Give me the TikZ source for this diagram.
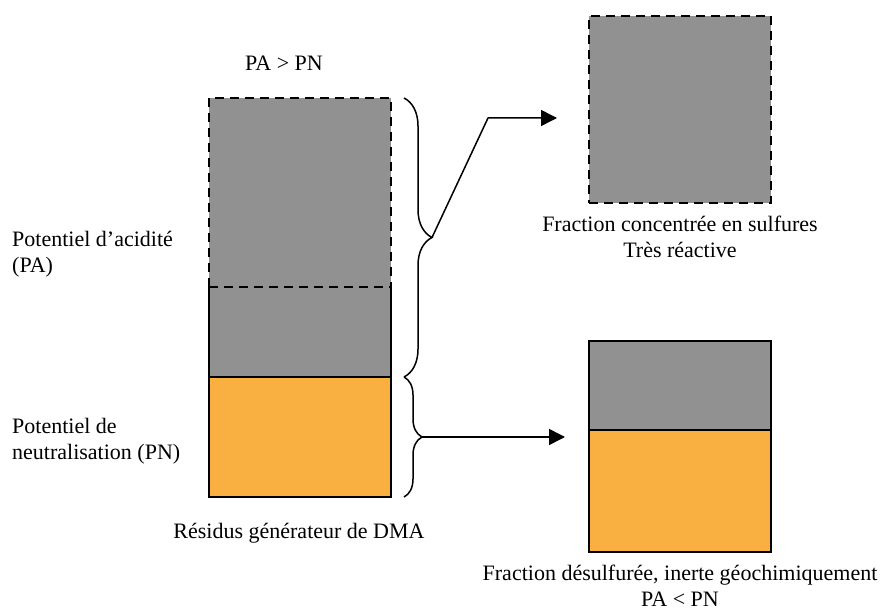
\documentclass[tikz,border=0pt]{standalone}
\usepackage{fontspec}
\setmainfont{Liberation Serif}
\usetikzlibrary{positioning,arrows.meta,decorations.pathreplacing}
\definecolor{pagris}{RGB}{145,145,145}
\definecolor{pnorange}{RGB}{250,175,65}
\begin{document}
\begin{tikzpicture}[x=1pt,y=-1pt,
  block/.style={rectangle, minimum width=182pt, inner sep=0pt, outer sep=0pt, line width=1.2pt},
  lbl/.style={font=\fontsize{22}{26}\selectfont, inner sep=0pt},
  dashedge/.style={line width=1.2pt, dash pattern=on 9pt off 6pt},
  fleche/.style={line width=1.5pt, line join=round, -{Triangle[length=16pt,width=16pt]}},
  accolade/.style={line width=1.5pt, decorate, decoration={brace, amplitude=#1}}]
\useasboundingbox (0,0) rectangle (887,612);
\node[block, fill=pagris, minimum height=189pt] (acid) at (300,192.5){};
\node[block, fill=pagris, minimum height=90pt, below=0pt of acid] (reste){};
\node[block, draw, fill=pnorange, minimum height=120pt, below=0pt of reste] (neutre){};
\draw[dashedge](acid.south west) |- (acid.north east) -- (acid.south east);
\draw[dashedge](acid.south west) -- (acid.south east);
\draw[line width=1.2pt](reste.north west) -- (reste.south west) (reste.north east) -- (reste.south east);

\node[block, draw, dashedge, fill=pagris, minimum height=187pt] (concentre) at (680,109.5){};
\node[block, draw, fill=pagris, minimum height=89pt] (desgris) at (680,385.5){};
\node[block, draw, fill=pnorange, minimum height=122pt, below=0pt of desgris] (desorange){};

\draw[accolade=28pt]([xshift=13pt]acid.north east) -- node[coordinate, xshift=28pt] (pointeA){} ([xshift=13pt]reste.south east);
\draw[accolade=18pt]([xshift=13pt]neutre.north east) -- node[coordinate, xshift=18pt] (pointeB){} ([xshift=13pt]neutre.south east);
\coordinate (coudeA) at (488,118);
\coordinate (finA) at (557,118);
\coordinate (finB) at (565,437);
\draw[fleche](pointeA) -- (coudeA) -- (finA);
\draw[fleche](pointeB) -- (finB);

\node[lbl, anchor=base west] (rapportA) at (245,71){PA > PN};
\node[lbl, anchor=base west, align=left] (acidite) at (12,273){Potentiel d’acidité\\(PA)};
\node[lbl, anchor=base west, align=left] (neutralisation) at (12,460){Potentiel de\\neutralisation (PN)};
\node[lbl, anchor=base] (residus) at (299,538){Résidus générateur de DMA};
\node[lbl, anchor=base, align=center] (legendeA) at (680,258){Fraction concentrée en sulfures\\Très réactive};
\node[lbl, anchor=base, align=center] (legendeB) at (680,606){Fraction désulfurée, inerte géochimiquement\\PA < PN};
\end{tikzpicture}
\end{document}
